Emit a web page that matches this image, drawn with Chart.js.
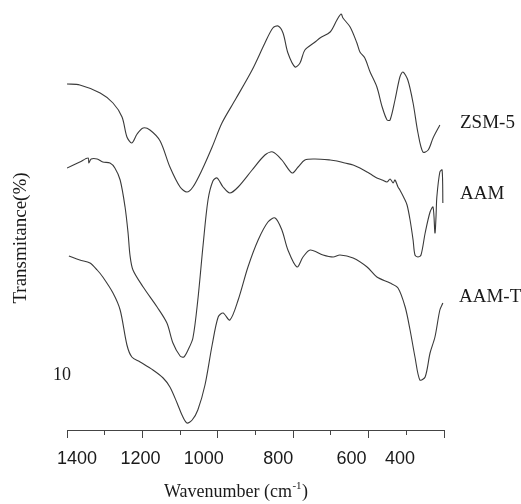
<!DOCTYPE html>
<html>
<head>
<meta charset="utf-8">
<script src="https://cdn.jsdelivr.net/npm/chart.js@4.4.0/dist/chart.umd.min.js"></script>
<style>
html,body{margin:0;padding:0;background:#fff;}
#wrap{width:521px;height:504px;position:relative;}
</style>
</head>
<body>
<div id="wrap"><canvas id="c"></canvas></div>
<script>
// ---- data (wavenumber cm-1, transmittance in arbitrary offset units) ----
const seriesNames = ['ZSM-5', 'AAM', 'AAM-T'];

const zsmWn = [1400,1366,1312,1278,1254,1241,1228,1214,1198,1180,1153,1127,1100,1082,1066,1042,1015,989,954,909,875,854,840,827,814,795,782,769,742,729,702,684,673,668,649,631,623,610,596,578,564,551,543,530,517,509,496,482,469,456,442,429,411];
const zsmT  = [346,345,337,327,313,293,287,296,302,300,289,263,243,238,243,260,283,307,330,360,387,402,404,397,377,363,367,380,388,392,398,410,416,412,403,387,378,372,358,343,323,310,310,330,353,358,350,327,297,278,280,292,305];

const aamWn = [1400,1366,1344,1342,1336,1320,1305,1286,1273,1259,1246,1238,1233,1225,1198,1161,1135,1119,1100,1090,1079,1066,1053,1039,1026,1013,1002,986,968,946,909,875,854,830,803,787,769,742,702,684,663,641,623,604,591,578,564,551,543,535,530,522,517,506,498,490,482,477,469,461,450,437,429,424,421,419,411,405,403];
const aamT  = [262,268,272,267,271,271,268,267,262,250,223,197,175,160,143,123,107,87,74,73,80,92,130,185,230,249,252,243,237,243,260,275,278,270,257,263,270,271,270,269,267,265,262,258,255,252,250,248,251,247,250,243,240,232,225,210,190,175,173,175,197,218,223,197,215,233,258,260,227];

const aamtWn = [1395,1366,1339,1320,1305,1278,1259,1241,1228,1206,1172,1145,1127,1108,1095,1082,1068,1053,1034,1015,999,986,968,946,920,893,867,848,830,814,790,774,755,721,694,676,641,604,578,543,522,503,490,477,464,450,437,424,411,403];
const aamtT  = [174,170,167,160,153,137,120,85,73,68,60,52,43,27,15,7,10,20,45,85,113,117,110,130,163,190,208,212,200,180,163,173,180,175,173,175,172,163,153,147,142,123,100,73,50,53,77,93,120,127];

const tickValues = [1400, 1200, 1000, 800, 600, 400];
const tickLabels = ['1400', '1200', '1000', '800', '600', '400'];
const xTitleMain = 'Wavenumber (cm';
const xTitleSup = '-1';
const xTitleEnd = ')';
const yTitle = 'Transmitance(%)';
const yMarker = '10';

function pairs(xs, ys) { return xs.map((x, i) => ({x: x, y: ys[i]})); }

const textPlugin = {
  id: 'texts',
  afterDraw(chart, args, opts) {
    const ctx = chart.ctx;
    const xs = chart.scales.x;
    const area = chart.chartArea;
    ctx.save();
    ctx.fillStyle = '#1a1a1a';
    // tick labels
    ctx.font = '18px "Liberation Sans", Arial, sans-serif';
    ctx.textAlign = 'center';
    ctx.textBaseline = 'alphabetic';
    tickValues.forEach((v, i) => {
      ctx.fillText(tickLabels[i], xs.getPixelForValue(v) + opts.labelShift[i], area.bottom + 34);
    });
    // x title with superscript
    const serif = '"Liberation Serif", "Times New Roman", serif';
    ctx.textAlign = 'left';
    ctx.font = '18px ' + serif;
    const w1 = ctx.measureText(xTitleMain).width;
    const w3 = ctx.measureText(xTitleEnd).width;
    ctx.font = '11px ' + serif;
    const w2 = ctx.measureText(xTitleSup).width;
    let x0 = opts.xTitleX - (w1 + w2 + w3 + 1) / 2;
    const yb = opts.xTitleY;
    ctx.font = '18px ' + serif;
    ctx.fillText(xTitleMain, x0, yb);
    ctx.font = '11px ' + serif;
    ctx.fillText(xTitleSup, x0 + w1 + 0.5, yb - 8);
    ctx.font = '18px ' + serif;
    ctx.fillText(xTitleEnd, x0 + w1 + w2 + 1, yb);
    // y title
    ctx.save();
    ctx.translate(opts.yTitleX, opts.yTitleY);
    ctx.rotate(-Math.PI / 2);
    ctx.textAlign = 'center';
    ctx.font = '19px ' + serif;
    ctx.fillText(yTitle, 0, 0);
    ctx.restore();
    // marker "10"
    ctx.font = '18px ' + serif;
    ctx.textAlign = 'left';
    ctx.fillText(yMarker, opts.markerX, opts.markerY);
    // series labels
    ctx.font = '19px ' + serif;
    chart.data.datasets.forEach((ds, i) => {
      ctx.fillText(ds.label, opts.seriesX[i], opts.seriesY[i]);
    });
    ctx.restore();
  }
};

const lineStyle = {
  borderColor: '#3a3a3a',
  borderWidth: 1.1,
  pointRadius: 0,
  fill: false,
  tension: 0.3
};

new Chart(document.getElementById('c'), {
  type: 'line',
  data: {
    datasets: [
      Object.assign({label: seriesNames[0], data: pairs(zsmWn, zsmT)}, lineStyle),
      Object.assign({label: seriesNames[1], data: pairs(aamWn, aamT)}, lineStyle),
      Object.assign({label: seriesNames[2], data: pairs(aamtWn, aamtT)}, lineStyle)
    ]
  },
  options: {
    responsive: true,
    maintainAspectRatio: false,
    animation: false,
    layout: {padding: {top: 5, left: 67, right: 77, bottom: 0}},
    plugins: {
      legend: {display: false},
      tooltip: {enabled: false},
      texts: {
        labelShift: [10, -2, -14, -15, -17, -44],
        xTitleX: 236, xTitleY: 497,
        yTitleX: 26, yTitleY: 238,
        markerX: 53, markerY: 380,
        seriesX: [460, 460, 459],
        seriesY: [128, 199, 302]
      }
    },
    scales: {
      x: {
        type: 'linear',
        position: 'bottom',
        min: 400,
        max: 1400,
        reverse: true,
        ticks: {stepSize: 100, display: false},
        grid: {
          display: true,
          drawOnChartArea: false,
          drawTicks: true,
          tickLength: 8,
          tickColor: '#444',
          tickWidth: 1,
          tickBorderDash: (c) => (c.tick && c.tick.value % 200 === 0) ? [] : [4, 10]
        },
        border: {display: true, color: '#444', width: 1},
        afterFit: (s) => { s.height = 74; }
      },
      y: {
        type: 'linear',
        display: false,
        min: 0,
        max: 425
      }
    }
  },
  plugins: [textPlugin]
});
</script>
</body>
</html>
